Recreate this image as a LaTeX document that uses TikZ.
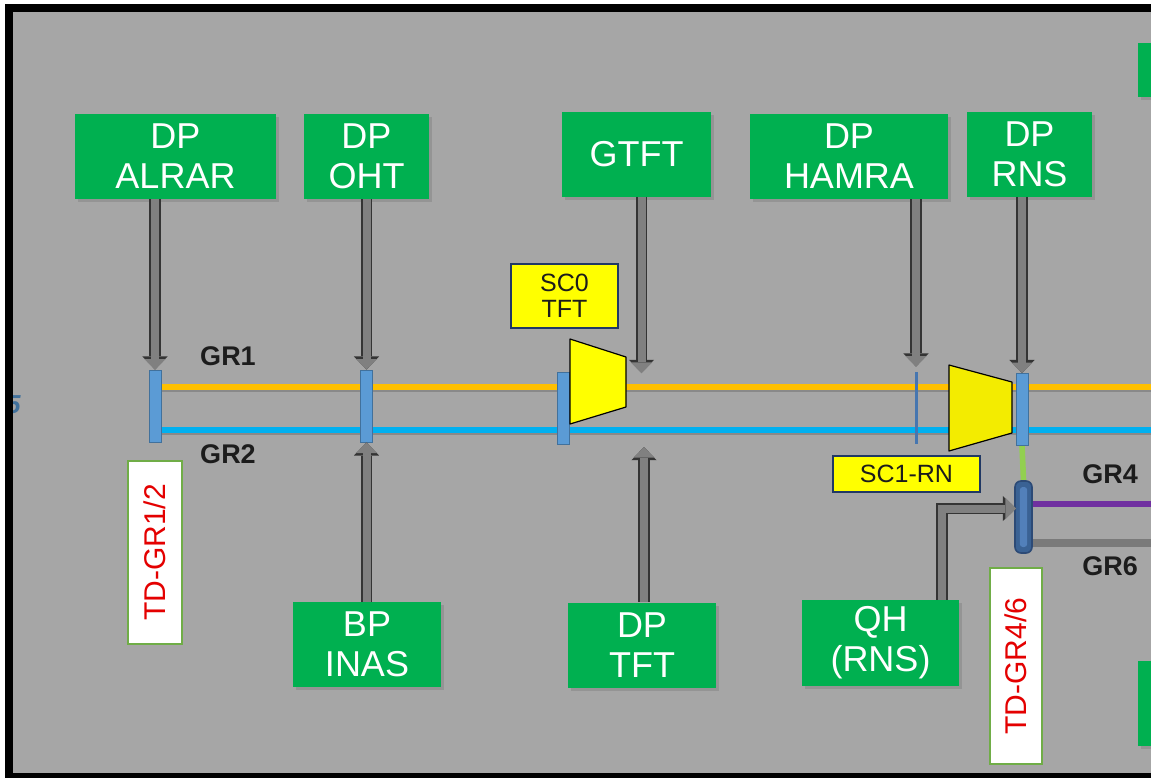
\documentclass[tikz,border=0pt]{standalone}
\usepackage{fontspec}
\setmainfont{Liberation Sans}
\usetikzlibrary{arrows.meta,calc,backgrounds,shadows}
\definecolor{cPanel}    {RGB}{166,166,166}
\definecolor{cGreen}    {RGB}{0,176,80}
\definecolor{cGrOne}    {RGB}{255,192,0}
\definecolor{cGrTwo}    {RGB}{0,176,240}
\definecolor{cGrFour}   {RGB}{112,48,160}
\definecolor{cGrSix}    {RGB}{122,122,122}
\definecolor{cLink}     {RGB}{146,208,80}
\definecolor{cBar}      {RGB}{91,155,213}
\definecolor{cBarEdge}  {RGB}{65,113,156}
\definecolor{cBarDark}  {RGB}{58,98,148}
\definecolor{cBarDkEdge}{RGB}{44,74,118}
\definecolor{cBarStripe}{RGB}{82,128,186}
\definecolor{cTap}      {RGB}{70,118,176}
\definecolor{cLabel}    {RGB}{255,255,0}
\definecolor{cLabelEdge}{RGB}{32,56,100}
\definecolor{cCompA}    {RGB}{255,255,0}
\definecolor{cCompB}    {RGB}{243,236,0}
\definecolor{cTdEdge}   {RGB}{112,173,71}
\definecolor{cTdText}   {RGB}{228,0,0}
\definecolor{cFeed}     {RGB}{128,128,128}
\definecolor{cFeedEdge} {RGB}{52,52,52}
\definecolor{cInk}      {RGB}{28,28,28}
\tikzset{
  dpbox/.style={fill=cGreen,text=white,align=center,inner sep=0pt,
                minimum height=42.5pt,font=\fontsize{18}{20}\selectfont,
                drop shadow={shadow xshift=1.5pt,shadow yshift=-1.5pt,opacity=.45}},
  scbox/.style={fill=cLabel,draw=cLabelEdge,line width=.6pt,align=center,
                inner sep=0pt,text=cInk,font=\fontsize{12.5}{13}\selectfont},
  tdbox/.style={fill=white,draw=cTdEdge,line width=.6pt,rotate=90,inner sep=0pt,
                text=cTdText,font=\fontsize{15}{17}\selectfont},
  busbar/.style={fill=cBar,draw=cBarEdge,line width=.4pt,minimum width=6pt,
                 minimum height=36pt,inner sep=0pt},
  grlab/.style={font=\fontsize{13.5}{15}\selectfont\bfseries,text=cInk},
  feed/.style={draw=cFeed,line width=4pt,-{Triangle[length=5.3pt,width=10.6pt,line width=0pt]},
               preaction={draw=cFeedEdge,line width=5.6pt,
                          -{Triangle[length=6.6pt,width=12.6pt,line width=0pt]}}},
  compr/.style={draw=black,line width=.6pt,line join=round},
  bus/.style={line width=3pt,preaction={draw=black!60,opacity=.45,line width=3pt,
              transform canvas={yshift=-1.2pt}}},
}

\begin{document}
\begin{tikzpicture}[x=0.5pt,y=-0.5pt]
  \useasboundingbox (0,0) rectangle (1151,778);
  \begin{scope}[on background layer]
    \fill[white] (0,0) rectangle (1151,778);
    \fill[black] (5,4) rectangle (1151,778);
    \fill[cPanel] (13,12) rectangle (1151,772.5);
  \end{scope}
  % text cut off by the frame
  \begin{scope}
    \clip (13,390) rectangle (40,420);
    \node[font=\fontsize{13}{15}\selectfont\bfseries\itshape,text=cBarEdge,
          anchor=east,inner sep=0pt] (cutfive) at (21,405) {5};
  \end{scope}

  % feeders on top
  \node[dpbox,minimum width=100.5pt] (dpalrar) at (175.5,156.5) {DP\\ALRAR};
  \node[dpbox,minimum width=62.5pt]  (dpoht)   at (366.5,156.5) {DP\\OHT};
  \node[dpbox,minimum width=74.5pt]  (gtft)    at (636.5,154.5) {GTFT};
  \node[dpbox,minimum width=99pt]    (dphamra) at (849,156.5)   {DP\\HAMRA};
  \node[dpbox,minimum width=62.5pt]  (dprns)   at (1029.5,154.5) {DP\\RNS};
  \node[dpbox,minimum width=75pt,minimum height=27pt,anchor=north west] (edgetop) at (1138,43) {};
  % feeders below
  \node[dpbox,minimum width=74pt]    (bpinas)  at (367,644.5)   {BP\\INAS};
  \node[dpbox,minimum width=74pt]    (dptft)   at (642,645)     {DP\\TFT};
  \node[dpbox,minimum width=78.5pt,minimum height=43pt] (qhrns) at (880.5,643) {QH\\(RNS)};
  \node[dpbox,minimum width=75pt,anchor=north west] (edgebot) at (1138,661) {};

  % bus sections
  \node[busbar] (barA) at (155,406) {};
  \node[busbar] (barB) at (366.5,406) {};
  \node[busbar] (barC) at (563,408) {};
  \node[fill=cTap,minimum width=1.5pt,minimum height=36pt,inner sep=0pt] (barD) at (916,408) {};
  \node[busbar] (barE) at (1022,409.5) {};
  \node[busbar,fill=cBarDark,draw=cBarDkEdge,line width=.8pt,minimum width=8.5pt,rounded corners=3pt,
        path picture={\fill[cBarStripe,rounded corners=1.5pt]
          ([xshift=2.4pt,yshift=-3pt]path picture bounding box.north west) rectangle
          ([xshift=-2.4pt,yshift=3pt]path picture bounding box.south east);}] (barF) at (1023.5,517) {};

  \coordinate (endGrOne)  at (1160,387);
  \coordinate (endGrTwo)  at (1160,430);
  \coordinate (endGrFour) at (1160,504);
  \coordinate (endGrSix)  at (1160,543);
  \begin{scope}[on background layer]
    \draw[bus,cGrOne] (barA.east |- endGrOne) -- (endGrOne);
    \draw[bus,cGrTwo] (barA.east |- endGrTwo) -- (endGrTwo);
    \draw[cLink,line width=2.8pt] (barE.south) -- (barF.north);
    \draw[cGrFour,line width=2.6pt] (barF.east |- endGrFour) -- (endGrFour);
    \draw[cGrSix,line width=4pt] (barF.east |- endGrSix) -- (endGrSix);
  \end{scope}

  % compressors
  \draw[compr,fill=cCompA] (570,339) -- (626,357) -- (626,407) -- (570,424) -- cycle;
  \draw[compr,fill=cCompB] (949,365) -- (1012,382) -- (1012,433) -- (949,451) -- cycle;

  \node[scbox,minimum width=53.5pt,minimum height=32pt] (sczero) at (564.5,296) {SC0\\TFT};
  \node[scbox,minimum width=73.5pt,minimum height=18pt] (scone)  at (906.5,474) {SC1-RN};
  \node[tdbox,minimum width=91.5pt,minimum height=27pt] (tdA) at (155,552.5) {TD-GR1/2};
  \node[tdbox,minimum width=98pt,minimum height=26pt]   (tdB) at (1016,666) {TD-GR4/6};

  \node[grlab] (grone)  at (228,356)  {GR1};
  \node[grlab] (grtwo)  at (228,454)  {GR2};
  \node[grlab] (grfour) at (1110,474) {GR4};
  \node[grlab] (grsix)  at (1110,566) {GR6};

  % feed arrows
  \coordinate (gtftIn) at (641.5,373);
  \coordinate (tftIn)  at (644,447);
  \coordinate (qhIn)   at (1016,508.5);
  \draw[feed] (dpalrar.south -| barA.north) -- (barA.north);
  \draw[feed] (dpoht.south -| barB.north) -- (barB.north);
  \draw[feed] (gtft.south -| gtftIn) -- (gtftIn);
  \draw[feed] (dphamra.south -| barD.north) -- ([yshift=2.5pt]barD.north);
  \draw[feed] (dprns.south -| barE.north) -- (barE.north);
  \draw[feed] (bpinas.north -| barB.south) -- (barB.south);
  \draw[feed] (dptft.north -| tftIn) -- (tftIn);
  \draw[feed] ($(qhrns.north)+(61.5,0)$) |- (qhIn);
\end{tikzpicture}
\end{document}
